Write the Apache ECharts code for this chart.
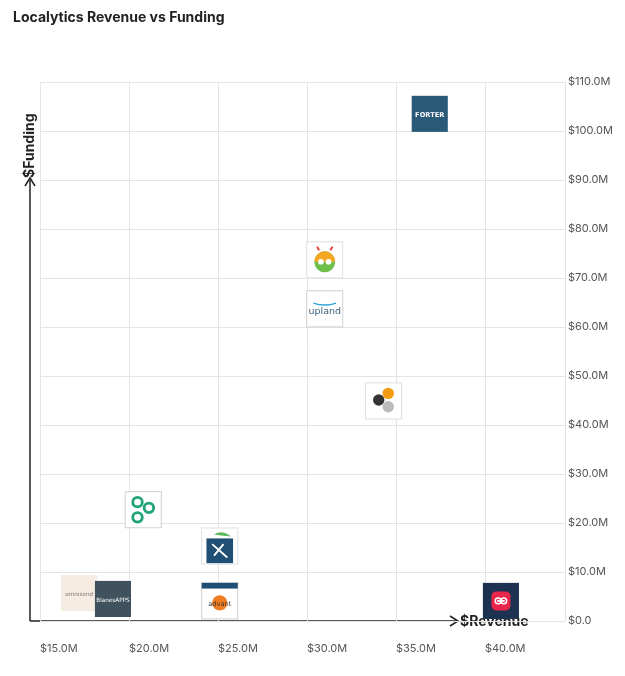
<!DOCTYPE html>
<html>
<head>
<meta charset="utf-8">
<script src="https://cdn.jsdelivr.net/npm/echarts@6/dist/echarts.min.js"></script>
<style>html,body{margin:0;padding:0;background:#fff}#main{width:625px;height:676px}</style>
</head>
<body>
<div id="main"></div>
<script>
// Localytics Revenue vs Funding
var companies = ['Forter', 'Bug', 'Upland', 'Hexa', 'Circles', 'Griffin', 'Advant', 'Omnisend', 'BlanesAPPS', 'Red'];
var revenue = [36.9, 31.0, 31.0, 34.3, 20.8, 25.1, 25.1, 17.2, 19.1, 40.9];
var funding = [103.5, 73.7, 63.7, 44.9, 22.7, 15.3, 4.1, 5.7, 4.5, 4.1];

// 简单的logo占位图
var logos = {
    Forter: '<rect x="1" y="1" width="38" height="38" fill="#2b5a78"/><text x="20" y="23" font-size="7" font-weight="bold" fill="#fff" text-anchor="middle" font-family="DejaVu Sans">FORTER</text>',
    Bug: '<rect x="1" y="1" width="38" height="38" fill="#fff" stroke="#ddd"/><circle cx="20" cy="22" r="11" fill="#6cc04a"/><path d="M9 22a11 11 0 0 1 22 0z" fill="#f5a623"/><circle cx="16" cy="22" r="3" fill="#fff"/><circle cx="24" cy="22" r="3" fill="#fff"/><line x1="14" y1="10" x2="12" y2="6" stroke="#e33" stroke-width="2"/><line x1="26" y1="10" x2="28" y2="6" stroke="#e33" stroke-width="2"/>',
    Upland: '<rect x="1" y="1" width="38" height="38" fill="#fff" stroke="#ccc"/><path d="M8 14q12 4 24 0" stroke="#2aa5d8" stroke-width="1.5" fill="none"/><text x="20" y="25" font-size="10" fill="#3a5f7a" text-anchor="middle" font-family="DejaVu Sans">upland</text>',
    Hexa: '<rect x="1" y="1" width="38" height="38" fill="#fff" stroke="#ddd"/><circle cx="25" cy="12" r="6" fill="#f39c12"/><circle cx="15" cy="19" r="6" fill="#333"/><circle cx="25" cy="26" r="6" fill="#bbb"/>',
    Circles: '<rect x="1" y="1" width="38" height="38" fill="#fff" stroke="#ccc"/><circle cx="14" cy="12" r="5" fill="none" stroke="#1ea37a" stroke-width="3"/><circle cx="26" cy="18" r="5" fill="none" stroke="#1ea37a" stroke-width="3"/><circle cx="14" cy="28" r="5" fill="none" stroke="#1ea37a" stroke-width="3"/>',
    Griffin: '<rect x="1" y="1" width="38" height="38" fill="#fff" stroke="#ddd"/><path d="M14 8q8-6 18 2z" fill="#5cb85c"/><rect x="6" y="12" width="28" height="26" fill="#1f4f74"/><path d="M12 18l16 14M14 30l10-12" stroke="#fff" stroke-width="2"/>',
    Advant: '<rect x="1" y="1" width="38" height="38" fill="#fff" stroke="#ccc"/><rect x="1" y="1" width="38" height="6" fill="#1f4f74"/><circle cx="20" cy="22" r="8" fill="#f07c22"/><text x="20" y="25" font-size="7" fill="#333" text-anchor="middle" font-family="DejaVu Sans">advant</text>',
    Omnisend: '<rect x="1" y="1" width="38" height="38" fill="#f6ece1"/><text x="20" y="23" font-size="6" fill="#777" text-anchor="middle" font-family="DejaVu Sans">omnisend</text>',
    BlanesAPPS: '<rect x="1" y="1" width="38" height="38" fill="#3f525e"/><text x="20" y="23" font-size="6" fill="#fff" text-anchor="middle" font-family="DejaVu Sans">BlanesAPPS</text>',
    Red: '<rect x="1" y="1" width="38" height="38" fill="#1d3150"/><rect x="10" y="10" width="20" height="20" rx="5" fill="#e8264b"/><path d="M16 20h8" stroke="#fff" stroke-width="2"/><circle cx="17" cy="20" r="3" fill="none" stroke="#fff" stroke-width="1.5"/><circle cx="23" cy="20" r="3" fill="none" stroke="#fff" stroke-width="1.5"/>'
};

function logoSymbol(name) {
    var svg = '<svg xmlns="http://www.w3.org/2000/svg" width="40" height="40" viewBox="0 0 40 40">' + logos[name] + '</svg>';
    return 'image://data:image/svg+xml;charset=utf-8,' + encodeURIComponent(svg);
}

var points = [];
for (var i = 0; i < companies.length; i++) {
    points.push({
        name: companies[i],
        value: [revenue[i], funding[i]],
        symbol: logoSymbol(companies[i])
    });
}

var myChart = echarts.init(document.getElementById('main'));
var option = {
    backgroundColor: '#fff',
    title: {
        text: 'Localytics Revenue vs Funding',
        left: 8,
        top: 6,
        textStyle: { fontSize: 14, fontWeight: 'bold', color: '#222', fontFamily: 'Inter' }
    },
    grid: { left: 40, right: 60, top: 82, bottom: 55 },
    xAxis: {
        type: 'value',
        min: 15,
        max: 44.5,
        interval: 5,
        axisLine: { show: false },
        axisTick: { show: false },
        splitLine: { show: true, lineStyle: { color: '#e4e4e4' } },
        axisLabel: {
            align: 'left',
            margin: 22,
            showMaxLabel: false,
            color: '#555',
            fontSize: 11,
            fontFamily: 'Inter',
            formatter: function (v) { return '$' + v.toFixed(1) + 'M'; }
        }
    },
    yAxis: {
        type: 'value',
        position: 'right',
        min: 0,
        max: 110,
        interval: 10,
        axisLine: { show: false },
        axisTick: { show: false },
        splitLine: { show: true, lineStyle: { color: '#e4e4e4' } },
        axisLabel: {
            margin: 3,
            padding: [0, 0, 8, 0],
            color: '#555',
            fontSize: 11,
            fontFamily: 'Inter',
            formatter: function (v) { return v === 0 ? '$0.0' : '$' + v.toFixed(1) + 'M'; }
        }
    },
    graphic: [
        { type: 'line', shape: { x1: 30, y1: 621, x2: 30, y2: 178 }, style: { stroke: '#222', lineWidth: 1.5 } },
        { type: 'polyline', shape: { points: [[25, 186], [30, 178], [35, 186]] }, style: { stroke: '#222', lineWidth: 1.5, fill: null } },
        { type: 'line', shape: { x1: 30, y1: 621, x2: 458, y2: 621 }, style: { stroke: '#222', lineWidth: 1.5 } },
        { type: 'polyline', shape: { points: [[450, 616], [458, 621], [450, 626]] }, style: { stroke: '#222', lineWidth: 1.5, fill: null } },
        { type: 'text', x: 30, y: 178, rotation: Math.PI / 2, style: { text: '$Funding', fontSize: 14, fontWeight: 'bold', fill: '#222', fontFamily: 'Inter', textAlign: 'left', textVerticalAlign: 'middle' } },
        { type: 'text', x: 460, y: 622, style: { text: '$Revenue', fontSize: 14, fontWeight: 'bold', fill: '#222', fontFamily: 'Inter', textVerticalAlign: 'middle' } }
    ],
    series: [{
        type: 'scatter',
        symbolSize: 38,
        itemStyle: { opacity: 1 },
        data: points
    }]
};
myChart.setOption(option);
</script>
</body>
</html>
